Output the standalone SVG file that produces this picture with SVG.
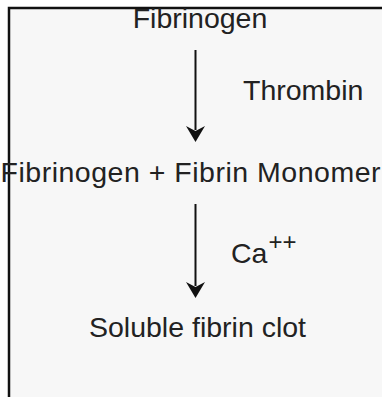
<svg xmlns="http://www.w3.org/2000/svg" width="382" height="397" viewBox="0 0 382 397">
<style>
  .t { font-family: "Liberation Sans", Arial, sans-serif; font-size: 28.5px; fill: #222; }
  .c { stroke: #111; stroke-width: 2; fill: none; }
</style>
<rect x="0" y="0" width="382" height="397" fill="#ffffff"/>
<rect x="9" y="8" width="373" height="389" fill="#f7f7f7"/>
<path d="M9,397 V8 H382" stroke="#111" stroke-width="2.5" fill="none"/>
<g id="connectors">
  <line class="c" x1="195.5" y1="50" x2="195.5" y2="130"/>
  <path d="M186,126 L195.5,142 L205,126 L195.5,131 Z" fill="#111"/>
  <line class="c" x1="195.5" y1="204" x2="195.5" y2="286"/>
  <path d="M186,282 L195.5,298 L205,282 L195.5,287 Z" fill="#111"/>
</g>
<g id="fibrinogen"><text class="t" x="200" y="28" text-anchor="middle">Fibrinogen</text></g>
<g id="thrombin"><text class="t" x="243" y="100">Thrombin</text></g>
<g id="monomer"><text class="t" x="0.5" y="182" textLength="380" lengthAdjust="spacing">Fibrinogen + Fibrin Monomer</text></g>
<g id="calcium"><text class="t" x="231" y="263">Ca<tspan font-size="24" dx="1" dy="-13">++</tspan></text></g>
<g id="clot"><text class="t" x="197.5" y="337" text-anchor="middle">Soluble fibrin clot</text></g>
</svg>
